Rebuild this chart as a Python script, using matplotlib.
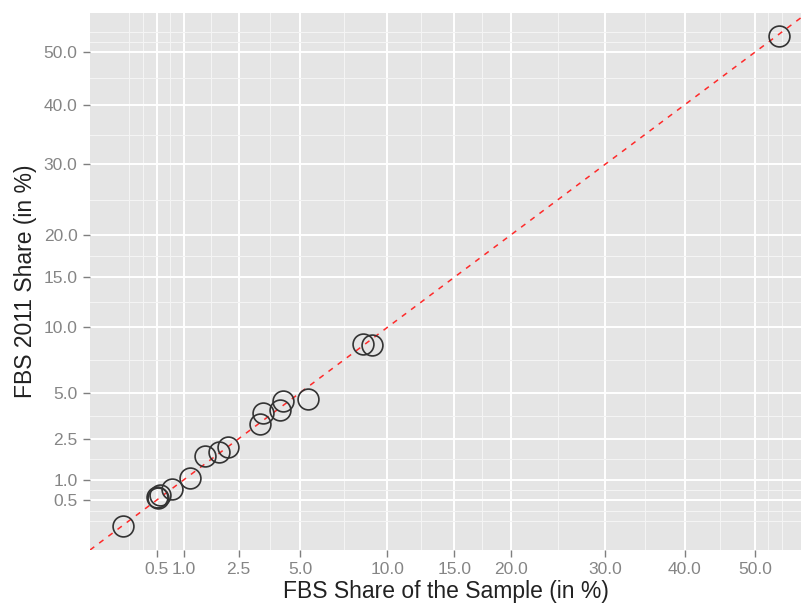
import numpy as np
import matplotlib
matplotlib.use('Agg')
import matplotlib.pyplot as plt
from matplotlib.ticker import FixedLocator, FixedFormatter

# FBS share of the sample vs FBS 2011 share (in %)
sample_share = [0.12, 0.51, 0.53, 0.56, 0.76, 1.12, 1.50, 1.87, 2.14,
                3.27, 3.39, 4.09, 4.22, 5.38, 8.45, 8.98, 53.6]
fbs2011_share = [0.12, 0.57, 0.55, 0.62, 0.76, 1.05, 1.79, 1.92, 2.15,
                 3.20, 3.80, 3.97, 4.50, 4.62, 8.57, 8.51, 53.2]

breaks = [0.5, 1.0, 2.5, 5.0, 10.0, 15.0, 20.0, 30.0, 40.0, 50.0]
break_labels = ['%.1f' % b for b in breaks]

# minor grid: midpoints between breaks in sqrt space (ggplot style)
s = np.sqrt(breaks)
ext = np.concatenate([[s[0] - (s[1] - s[0])], s])
minor = list(np.concatenate([[ext[0]], (ext[:-1] + ext[1:]) / 2]) ** 2) + [52.0, 54.2]

fwd = lambda v: np.sqrt(np.clip(v, 0, None))
inv = lambda v: np.square(v)

plt.rcParams['font.family'] = ['Liberation Sans', 'DejaVu Sans']

fig = plt.figure(figsize=(8.02, 6.04), dpi=100)
ax = fig.add_axes([90 / 802, 54 / 604, 711 / 802, 536.7 / 604])
ax.set_facecolor('#E5E5E5')
ax.set_xscale('function', functions=(fwd, inv))
ax.set_yscale('function', functions=(fwd, inv))

xmax, ymax = 57.15, 58.1
ax.set_xlim(0, xmax)
ax.set_ylim(0, ymax)

for axis in (ax.xaxis, ax.yaxis):
    axis.set_major_locator(FixedLocator(breaks))
    axis.set_major_formatter(FixedFormatter(break_labels))
    axis.set_minor_locator(FixedLocator(minor))

ax.grid(which='major', color='white', linewidth=1.4)
ax.grid(which='minor', color='#F4F4F4', linewidth=0.8)
ax.set_axisbelow(True)
for sp in ax.spines.values():
    sp.set_visible(False)

ax.tick_params(which='major', length=5, width=1, color='#7F7F7F',
               labelcolor='#858585', labelsize=12.5, pad=4)
ax.tick_params(which='minor', length=0)

ax.plot([0, max(xmax, ymax)], [0, max(xmax, ymax)], color='#FF2A2A',
        linewidth=1.1, dashes=(3.5, 4), zorder=2)
ax.plot(sample_share, fbs2011_share, linestyle='none', marker='o',
        markersize=15, markerfacecolor='none', markeredgecolor='#333333',
        markeredgewidth=1.2, zorder=3)

ax.set_xlabel('FBS Share of the Sample (in %)', fontsize=16.5, color='#222222',
              labelpad=2)
ax.set_ylabel('FBS 2011 Share (in %)', fontsize=16.5, color='#222222',
              labelpad=5)

fig.savefig('out.png', dpi=100)
